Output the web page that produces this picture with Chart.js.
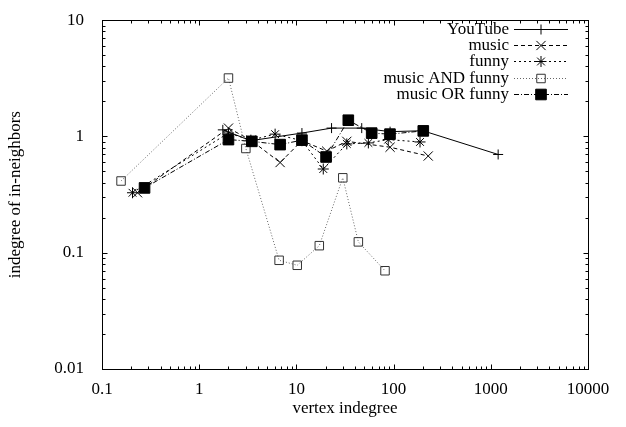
<!DOCTYPE html>
<html>
<head>
<meta charset="utf-8">
<script src="https://cdn.jsdelivr.net/npm/chart.js@4/dist/chart.umd.min.js"></script>
<style>
html, body { margin: 0; padding: 0; background: #fff; }
#wrap { width: 626px; height: 427px; position: relative; }
</style>
</head>
<body>
<div id="wrap"><canvas id="chart"></canvas></div>
<script>
// values (log-log, vertex indegree vs indegree of in-neighbors)
const youtubeX = [1.75, 3.4, 11.4, 23, 47, 92, 200, 1190];
const youtubeY = [1.14, 0.92, 1.07, 1.18, 1.18, 1.1, 1.12, 0.70];

const musicX = [0.232, 2.0, 3.4, 6.8, 11.4, 20.5, 33, 92, 227];
const musicY = [0.328, 1.18, 0.93, 0.597, 0.92, 0.748, 0.908, 0.808, 0.679];

const funnyX = [0.206, 2.0, 3.4, 6.04, 11.4, 18.9, 33, 55, 88, 187];
const funnyY = [0.328, 1.07, 0.93, 1.047, 0.92, 0.525, 0.863, 0.88, 0.94, 0.897];

const andX = [0.157, 2.0, 3.02, 6.64, 10.2, 17.2, 30, 43.4, 81.6];
const andY = [0.414, 3.18, 0.788, 0.0861, 0.078, 0.115, 0.441, 0.124, 0.070];

const orX = [0.274, 2.0, 3.48, 6.8, 11.4, 20.2, 34.2, 59.5, 91.8, 202];
const orY = [0.361, 0.94, 0.908, 0.851, 0.93, 0.666, 1.38, 1.068, 1.047, 1.117];

const seriesNames = ['YouTube', 'music', 'funny', 'music AND funny', 'music OR funny'];
const xTickValues = [0.1, 1, 10, 100, 1000, 10000];
const yTickValues = [0.01, 0.1, 1, 10];

const FONT = "'Liberation Serif', 'DejaVu Serif', serif";
const FS = 17;

function pts(xs, ys) { return xs.map((x, i) => ({ x: x, y: ys[i] })); }

function isPow10(v) {
    const l = Math.log10(v);
    return Math.abs(l - Math.round(l)) < 1e-9;
}

// frame + inward log ticks on all four sides (gnuplot style)
const framePlugin = {
    id: 'frame',
    afterDatasetsDraw(chart) {
        const { ctx, chartArea: a, scales } = chart;
        const L = Math.round(a.left) + 0.5, R = Math.round(a.right) + 0.5;
        const T = Math.round(a.top) + 0.5, B = Math.round(a.bottom) + 0.5;
        ctx.save();
        ctx.strokeStyle = '#000';
        ctx.lineWidth = 1;
        ctx.setLineDash([]);
        ctx.strokeRect(L, T, R - L, B - T);
        ctx.beginPath();
        const xs = scales.x;
        for (let d = -1; d <= 4; d++) {
            for (let m = 1; m <= 9; m++) {
                const v = m * Math.pow(10, d);
                if (v > 10000.0001) break;
                const px = Math.round(xs.getPixelForValue(v)) + 0.5;
                const len = m === 1 ? 5 : 3;
                ctx.moveTo(px, B); ctx.lineTo(px, B - len);
                ctx.moveTo(px, T); ctx.lineTo(px, T + len);
            }
        }
        const ys = scales.y;
        for (let d = -2; d <= 1; d++) {
            for (let m = 1; m <= 9; m++) {
                const v = m * Math.pow(10, d);
                if (v > 10.0001) break;
                const py = Math.round(ys.getPixelForValue(v)) + 0.5;
                const len = m === 1 ? 5 : 3;
                ctx.moveTo(L, py); ctx.lineTo(L + len, py);
                ctx.moveTo(R, py); ctx.lineTo(R - len, py);
            }
        }
        ctx.stroke();
        ctx.restore();
    }
};

// key in the top right: right-aligned text, line sample with marker
const keyPlugin = {
    id: 'key',
    afterDraw(chart) {
        const { ctx } = chart;
        const textRight = 509, x0 = 514, x1 = 568, top = 28.5, step = 16.4;
        ctx.save();
        ctx.font = FS + 'px ' + FONT;
        ctx.textAlign = 'right';
        ctx.textBaseline = 'middle';
        chart.data.datasets.forEach((ds, i) => {
            const y = Math.round(top + i * step) + 0.5;
            ctx.fillStyle = '#000';
            ctx.fillText(ds.label, textRight, y);
            ctx.strokeStyle = ds.borderColor;
            ctx.lineWidth = 1;
            ctx.setLineDash(ds.borderDash || []);
            ctx.beginPath();
            ctx.moveTo(x0, y); ctx.lineTo(x1, y);
            ctx.stroke();
            ctx.setLineDash([]);
            ctx.strokeStyle = ds.pointBorderColor;
            ctx.fillStyle = ds.pointBackgroundColor;
            if (Chart.helpers && Chart.helpers.drawPoint) {
                Chart.helpers.drawPoint(ctx, {
                    pointStyle: ds.pointStyle, radius: ds.pointRadius,
                    borderWidth: 1, rotation: 0
                }, (x0 + x1) / 2, y);
            }
        });
        ctx.restore();
    }
};

const common = { showLine: true, borderWidth: 1, pointBorderWidth: 1, pointBorderColor: '#000', tension: 0 };

new Chart(document.getElementById('chart'), {
    type: 'scatter',
    data: {
        datasets: [
            { ...common, label: seriesNames[0], data: pts(youtubeX, youtubeY), borderColor: '#000',
              pointStyle: 'cross', pointRadius: 5, pointBackgroundColor: 'rgba(0,0,0,0)', order: 4 },
            { ...common, label: seriesNames[1], data: pts(musicX, musicY), borderColor: '#000', borderDash: [4, 3],
              pointStyle: 'crossRot', pointRadius: 6.5, pointBackgroundColor: 'rgba(0,0,0,0)', order: 3 },
            { ...common, label: seriesNames[2], data: pts(funnyX, funnyY), borderColor: '#000', borderDash: [2, 3],
              pointStyle: 'star', pointRadius: 5.5, pointBackgroundColor: 'rgba(0,0,0,0)', order: 2 },
            { ...common, label: seriesNames[3], data: pts(andX, andY), borderColor: '#666', borderDash: [1, 2],
              pointStyle: 'rect', pointRadius: 6, pointBorderColor: '#333', pointBackgroundColor: 'rgba(0,0,0,0)', order: 1 },
            { ...common, label: seriesNames[4], data: pts(orX, orY), borderColor: '#000', borderDash: [5, 2, 1, 2],
              pointStyle: 'rect', pointRadius: 7.5, pointBackgroundColor: '#000', order: 0 }
        ]
    },
    options: {
        responsive: true,
        maintainAspectRatio: false,
        animation: false,
        layout: { padding: { top: 13, right: 38, left: 0, bottom: 0 } },
        plugins: { legend: { display: false }, tooltip: { enabled: false } },
        scales: {
            x: {
                type: 'logarithmic', min: 0.1, max: 10000,
                grid: { display: false }, border: { display: false },
                afterBuildTicks: s => { s.ticks = xTickValues.map(v => ({ value: v })); },
                afterFit: s => { s.height = 58; },
                ticks: {
                    autoSkip: false, maxRotation: 0, padding: 2, color: '#000',
                    font: { family: FONT, size: FS },
                    callback: v => isPow10(v) ? String(v) : ''
                },
                title: { display: true, text: 'vertex indegree', color: '#000',
                         font: { family: FONT, size: FS }, padding: { top: 0, bottom: 8 } }
            },
            y: {
                type: 'logarithmic', min: 0.01, max: 10,
                grid: { display: false }, border: { display: false },
                afterBuildTicks: s => { s.ticks = yTickValues.map(v => ({ value: v })); },
                afterFit: s => { s.width = 102; },
                ticks: {
                    autoSkip: false, padding: 10, color: '#000',
                    font: { family: FONT, size: FS },
                    callback: v => isPow10(v) ? String(v) : ''
                },
                title: { display: true, text: 'indegree of in-neighbors', color: '#000',
                         font: { family: FONT, size: FS }, padding: { top: 5, bottom: 0 } }
            }
        }
    },
    plugins: [framePlugin, keyPlugin]
});
</script>
</body>
</html>
